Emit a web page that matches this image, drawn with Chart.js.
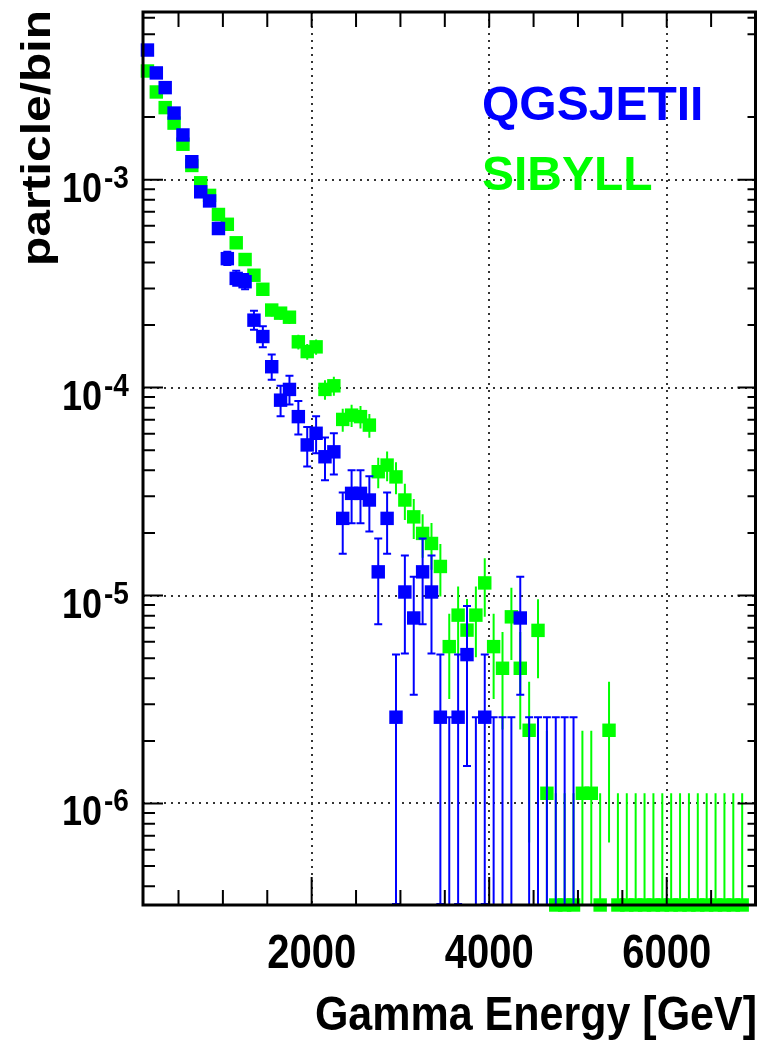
<!DOCTYPE html>
<html>
<head>
<meta charset="UTF-8">
<title>Gamma energy spectrum</title>
<script src="https://cdn.jsdelivr.net/npm/chart.js"></script>
<style>
  html, body { margin: 0; padding: 0; background: #fff; }
  canvas { display: block; }
</style>
</head>
<body>
<canvas id="spec" width="765" height="1043"></canvas>
<script>
// bin centres, 100 GeV bins
const energy = [150, 250, 350, 450, 550, 650, 750, 850, 950, 1050,
  1150, 1250, 1350, 1450, 1550, 1650, 1750, 1850, 1950, 2050,
  2150, 2250, 2350, 2450, 2550, 2650, 2750, 2850, 2950, 3050,
  3150, 3250, 3350, 3450, 3550, 3650, 3750, 3850, 3950, 4050,
  4150, 4250, 4350, 4450, 4550, 4650, 4750, 4850, 4950, 5050,
  5150, 5250, 5350, 5450, 5550, 5650, 5750, 5850, 5950, 6050,
  6150, 6250, 6350, 6450, 6550, 6650, 6750, 6850, 6950];

// QGSJETII (blue)
const qgsVal = [4.2e-3, 3.26e-3, 2.77e-3, 2.09e-3, 1.64e-3, 1.22e-3, 8.74e-4, 7.9e-4, 5.82e-4, 4.17e-4,
  3.35e-4, 3.23e-4, 2.11e-4, 1.76e-4, 1.26e-4, 8.7e-5, 9.8e-5, 7.25e-5, 5.3e-5, 6.03e-5,
  4.65e-5, 4.91e-5, 2.35e-5, 3.1e-5, 3.1e-5, 2.88e-5, 1.3e-5, 2.35e-5, 2.6e-6, 1.04e-5,
  7.8e-6, 1.3e-5, 1.04e-5, 2.6e-6, 0, 2.6e-6, 5.2e-6, 0, 2.6e-6, 0,
  0, 0, 7.8e-6, 0, 0, 0, 0, 0, 0, null,
  null, null, null, null, null, null, null, null, null, null,
  null, null, null, null, null, null, null, null, null];
const qgsErr = [1.04e-4, 9.2e-5, 8.5e-5, 7.4e-5, 6.5e-5, 5.6e-5, 4.8e-5, 4.5e-5, 3.9e-5, 3.3e-5,
  2.95e-5, 2.9e-5, 2.34e-5, 2.14e-5, 1.81e-5, 1.5e-5, 1.6e-5, 1.37e-5, 1.17e-5, 1.25e-5,
  1.1e-5, 1.13e-5, 7.8e-6, 9.0e-6, 9.0e-6, 8.7e-6, 5.8e-6, 7.8e-6, 2.6e-6, 5.2e-6,
  4.5e-6, 5.8e-6, 5.2e-6, 2.6e-6, 2.6e-6, 2.6e-6, 3.7e-6, 2.6e-6, 2.6e-6, 2.6e-6,
  2.6e-6, 2.6e-6, 4.5e-6, 2.6e-6, 2.6e-6, 2.6e-6, 2.6e-6, 2.6e-6, 2.6e-6, null,
  null, null, null, null, null, null, null, null, null, null,
  null, null, null, null, null, null, null, null, null];

// SIBYLL (green)
const sibVal = [3.33e-3, 2.64e-3, 2.22e-3, 1.87e-3, 1.48e-3, 1.17e-3, 9.66e-4, 8.4e-4, 6.8e-4, 6.1e-4,
  4.97e-4, 4.13e-4, 3.47e-4, 2.97e-4, 2.36e-4, 2.28e-4, 2.18e-4, 1.66e-4, 1.49e-4, 1.57e-4,
  9.8e-5, 1.02e-4, 7.03e-5, 7.37e-5, 7.25e-5, 6.6e-5, 3.94e-5, 4.24e-5, 3.72e-5, 2.88e-5,
  2.39e-5, 1.99e-5, 1.78e-5, 1.38e-5, 5.68e-6, 8.05e-6, 6.82e-6, 8.05e-6, 1.15e-5, 5.68e-6,
  4.47e-6, 7.9e-6, 4.47e-6, 2.25e-6, 6.8e-6, 1.12e-6, 0, 0, 0, 1.12e-6,
  1.12e-6, 0, 2.25e-6, 0, 0, 0, 0, 0, 0, 0,
  0, 0, 0, 0, 0, 0, 0, 0, null];
const sibErr = [6.1e-5, 5.4e-5, 5.0e-5, 4.6e-5, 4.1e-5, 3.6e-5, 3.3e-5, 3.1e-5, 2.8e-5, 2.6e-5,
  2.4e-5, 2.15e-5, 1.97e-5, 1.82e-5, 1.63e-5, 1.6e-5, 1.56e-5, 1.36e-5, 1.29e-5, 1.33e-5,
  1.05e-5, 1.07e-5, 8.9e-6, 9.1e-6, 9.0e-6, 8.6e-6, 6.6e-6, 6.9e-6, 6.5e-6, 5.7e-6,
  5.2e-6, 4.7e-6, 4.5e-6, 3.9e-6, 2.5e-6, 3.0e-6, 2.8e-6, 3.0e-6, 3.6e-6, 2.5e-6,
  2.2e-6, 3.0e-6, 2.2e-6, 1.6e-6, 2.8e-6, 1.12e-6, 1.12e-6, 1.12e-6, 1.12e-6, 1.12e-6,
  1.12e-6, 1.12e-6, 1.6e-6, 1.12e-6, 1.12e-6, 1.12e-6, 1.12e-6, 1.12e-6, 1.12e-6, 1.12e-6,
  1.12e-6, 1.12e-6, 1.12e-6, 1.12e-6, 1.12e-6, 1.12e-6, 1.12e-6, 1.12e-6, null];

const xTicks = [2000, 4000, 6000];
const yDecades = [-3, -4, -5, -6];
const xRange = [100, 7000];
const yRange = [3.25e-7, 6.4e-3];

const BLUE = '#0000ff';
const GREEN = '#00ff00';
const FONT = '"Liberation Sans", Arial, Helvetica, sans-serif';

// zero bins: ROOT puts the green marker on the frame floor, blue gets none
function points(vals, zeroToFloor) {
  const out = [];
  vals.forEach((v, i) => {
    if (v === null) return;
    if (v > 0) out.push({ x: energy[i], y: v });
    else if (zeroToFloor) out.push({ x: energy[i], y: yRange[0] });
  });
  return out;
}

function text(ctx, str, x, y, font, color, align, sy) {
  ctx.save();
  ctx.font = font;
  ctx.fillStyle = color;
  ctx.textAlign = align;
  ctx.textBaseline = 'alphabetic';
  ctx.translate(x, y);
  ctx.scale(1, sy);
  ctx.fillText(str, 0, 0);
  ctx.restore();
}

function drawErrors(chart, vals, errs, color, caps) {
  const ctx = chart.ctx, a = chart.chartArea;
  const xs = chart.scales.x, ys = chart.scales.y;
  ctx.save();
  ctx.beginPath();
  ctx.rect(a.left, a.top, a.right - a.left, a.bottom - a.top);
  ctx.clip();
  ctx.strokeStyle = color;
  ctx.lineWidth = 2;
  vals.forEach((v, i) => {
    if (v === null || errs[i] === null) return;
    const px = xs.getPixelForValue(energy[i]);
    const hi = v + errs[i], lo = v - errs[i];
    const yHi = ys.getPixelForValue(hi);
    const yLo = lo > 0 ? ys.getPixelForValue(lo) : a.bottom;
    ctx.beginPath();
    ctx.moveTo(px, yHi);
    ctx.lineTo(px, yLo);
    if (caps) {
      ctx.moveTo(px - 4, yHi); ctx.lineTo(px + 4, yHi);
      if (v > 0) { ctx.moveTo(px - 4, yLo - 1); ctx.lineTo(px + 4, yLo - 1); }
    }
    ctx.stroke();
  });
  ctx.restore();
}

const rootFrame = {
  id: 'rootFrame',
  beforeDatasetsDraw(chart) {
    const ctx = chart.ctx, a = chart.chartArea;
    const xs = chart.scales.x, ys = chart.scales.y;
    ctx.save();
    ctx.strokeStyle = '#333';
    ctx.lineWidth = 2;
    ctx.setLineDash([2, 5]);
    xTicks.forEach(t => {
      const px = Math.round(xs.getPixelForValue(t));
      ctx.beginPath(); ctx.moveTo(px, a.top); ctx.lineTo(px, a.bottom); ctx.stroke();
    });
    yDecades.forEach(d => {
      const py = Math.round(ys.getPixelForValue(Math.pow(10, d)));
      ctx.beginPath(); ctx.moveTo(a.left, py); ctx.lineTo(a.right, py); ctx.stroke();
    });
    ctx.restore();
  },
  beforeDatasetDraw(chart, args) {
    if (args.index === 1) drawErrors(chart, sibVal, sibErr, GREEN, false);
    if (args.index === 0) drawErrors(chart, qgsVal, qgsErr, BLUE, true);
  },
  afterDatasetsDraw(chart) {
    const ctx = chart.ctx, a = chart.chartArea;
    const xs = chart.scales.x, ys = chart.scales.y;
    ctx.save();
    ctx.strokeStyle = '#000';
    ctx.lineWidth = 2;
    ctx.beginPath();
    // x ticks every 500, long ones at the labels
    for (let t = 500; t < xRange[1]; t += 500) {
      const px = xs.getPixelForValue(t);
      const major = t % 2000 === 0;
      ctx.moveTo(px, a.bottom); ctx.lineTo(px, a.bottom - (major ? 28 : 15));
      ctx.moveTo(px, a.top); ctx.lineTo(px, a.top + 15);
    }
    // y ticks, log
    for (let d = -7; d <= -3; d++) {
      for (let m = 1; m <= 9; m++) {
        const v = m * Math.pow(10, d);
        if (v < yRange[0] || v > yRange[1]) continue;
        if (d === -3 && m > 1 && [2, 5, 6].indexOf(m) < 0) continue;
        const py = ys.getPixelForValue(v);
        const major = m === 1;
        ctx.moveTo(a.left, py); ctx.lineTo(a.left + (major ? 20 : 12), py);
        ctx.moveTo(a.right, py); ctx.lineTo(a.right - (major ? 18 : 8), py);
      }
    }
    ctx.stroke();
    ctx.lineWidth = 3;
    ctx.strokeRect(a.left, a.top, a.right - a.left, a.bottom - a.top);
    ctx.restore();

    // y labels 10^n
    yDecades.forEach(d => {
      const py = ys.getPixelForValue(Math.pow(10, d));
      text(ctx, '10', 102, py + 22, 'bold 36px ' + FONT, '#000', 'right', 1.2);
      text(ctx, String(d), 104, py + 8, 'bold 28px ' + FONT, '#000', 'left', 1.1);
    });
    // x labels
    xTicks.forEach(t => {
      text(ctx, String(t), xs.getPixelForValue(t), 968, 'bold 40px ' + FONT, '#000', 'center', 1.2);
    });
    // axis titles
    text(ctx, 'Gamma Energy [GeV]', 757, 1030, 'bold 43px ' + FONT, '#000', 'right', 1.1);
    ctx.save();
    ctx.font = 'bold 40px ' + FONT;
    ctx.fillStyle = '#000';
    ctx.textAlign = 'right';
    ctx.translate(50, 10);
    ctx.rotate(-Math.PI / 2);
    ctx.scale(1.2, 1);
    ctx.fillText('particle/bin', 0, 0);
    ctx.restore();
    // legend text
    text(ctx, 'QGSJETII', 482, 120, 'bold 48px ' + FONT, BLUE, 'left', 1.0);
    text(ctx, 'SIBYLL', 482, 190, 'bold 48px ' + FONT, GREEN, 'left', 1.0);
  }
};

new Chart(document.getElementById('spec'), {
  type: 'scatter',
  data: {
    datasets: [
      { label: 'QGSJETII', data: points(qgsVal, false), pointStyle: 'rect', pointRadius: 9.5,
        backgroundColor: BLUE, borderWidth: 0, clip: false },
      { label: 'SIBYLL', data: points(sibVal, true), pointStyle: 'rect', pointRadius: 9.5,
        backgroundColor: GREEN, borderWidth: 0, clip: false }
    ]
  },
  options: {
    responsive: false,
    animation: false,
    layout: { padding: { left: 143, right: 5, top: 12, bottom: 138 } },
    scales: {
      x: { type: 'linear', min: xRange[0], max: xRange[1], display: false },
      y: { type: 'logarithmic', min: yRange[0], max: yRange[1], display: false }
    },
    plugins: { legend: { display: false }, tooltip: { enabled: false } }
  },
  plugins: [rootFrame]
});
</script>
</body>
</html>
